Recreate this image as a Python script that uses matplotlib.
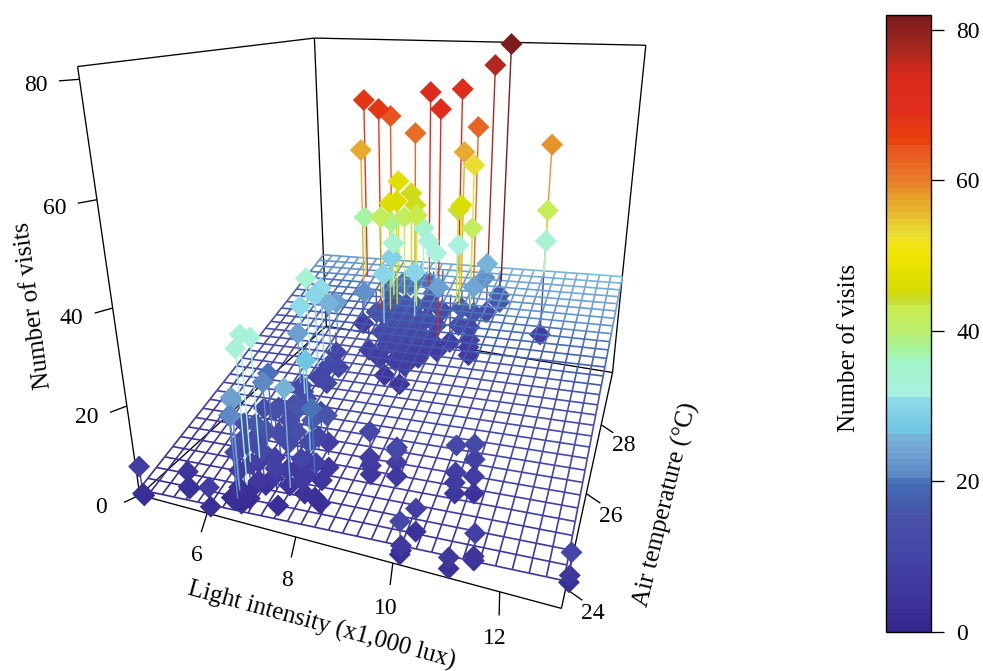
import numpy as np
import matplotlib
matplotlib.use('Agg')
import matplotlib.pyplot as plt
from matplotlib.colors import LinearSegmentedColormap, Normalize
from matplotlib.cm import ScalarMappable
from mpl_toolkits.mplot3d.art3d import Line3DCollection

plt.rcParams['font.family'] = ['Liberation Serif', 'DejaVu Serif']

# ------------------ data ------------------
light = [8.71,8.82,8.89,8.94,9.33,9.42,9.40,9.46,10.50,10.62,10.66,10.68,10.84,10.90,10.96,11.00,10.29,10.28,10.23,10.24,10.20,10.17,11.48,11.49,11.49,11.12,11.13,13.14,13.14,13.13,
 4.57,4.65,4.69,5.30,5.52,5.48,6.28,6.21,6.55,6.62,6.68,6.49,6.36,6.72,6.65,
 7.44,7.23,7.50,7.83,8.19,8.01,8.04,8.03,7.81,7.65,6.49,6.87,7.07,7.34,7.71,7.79,6.74,7.26,7.79,6.91,6.45,7.06,7.02,7.80,7.84,7.92,6.63,6.39,6.57,6.51,6.70,6.55,
 6.34,6.74,6.50,6.58,6.90,7.25,6.56,6.18,6.34,6.48,6.59,6.28,6.52,
 6.46,6.56,6.53,6.35,6.29,7.48,7.52,6.30,6.50,6.43,6.35,9.99,9.55,8.69,8.11,9.00,6.18,7.15,6.82,7.89,9.29,6.40,8.98,9.12,11.03,
 6.96,7.46,7.41,7.51,7.96,6.03,6.99,7.04,7.57,8.05,9.16,9.01,7.70,7.89,7.27,8.40,8.76,7.08,9.49,11.03,
 11.03,7.16,7.73,6.65,7.83,8.47,7.46,8.15,6.10,6.71,7.12,7.47,7.72,7.96,8.00,8.26,7.16,7.47,7.72,7.96,8.15,8.36,7.41,7.72,7.93,8.22,8.33,8.57,7.77,7.60,8.13,8.10,7.36,
 9.05,9.26,8.97,9.22,9.33,9.37,9.44,9.52,9.85,9.86,9.42,9.45,9.39,11.03,
 6.96,7.46,7.35,7.87,6.59,6.91,7.12,7.46,7.64,7.67,6.71,6.57,6.67,7.13,7.41,7.00,7.04,6.55,6.75,6.72,
 7.45,6.95,7.95,6.85,7.45,7.80,8.25,7.00,8.05,8.30,8.80,7.35,8.00,7.20]
temperature = [25.12,24.92,24.84,24.74,25.09,24.91,24.94,24.83,25.33,25.01,24.88,24.84,25.45,25.30,25.11,25.03,23.98,23.99,23.50,23.51,23.59,23.60,23.79,23.73,23.74,23.52,23.50,23.78,23.82,23.87,
 23.56,23.52,23.47,23.96,23.75,23.80,23.50,23.56,23.80,23.98,24.19,23.99,23.92,23.99,23.85,
 23.91,24.19,24.19,24.19,24.16,24.25,24.68,24.46,24.30,24.53,23.97,24.24,24.34,24.43,24.55,25.06,24.10,24.11,24.18,24.05,24.07,24.51,24.87,24.56,24.51,24.86,24.94,24.36,23.85,23.98,24.54,24.22,
 27.56,27.04,26.59,25.88,26.33,24.89,25.14,25.15,24.49,24.59,24.09,26.60,26.79,
 26.64,25.99,27.05,27.62,26.21,24.88,24.18,25.20,24.81,24.05,24.05,29.54,29.72,29.79,29.17,27.77,29.35,28.38,29.55,28.80,29.37,28.80,29.28,29.62,29.95,
 29.69,29.45,28.38,28.55,28.67,29.52,28.69,29.15,28.84,28.56,28.70,28.88,29.69,29.60,28.82,28.97,29.56,29.06,28.61,29.95,
 29.95,29.17,29.15,28.41,29.74,28.96,27.96,28.25,29.22,28.89,28.69,28.58,28.65,28.74,29.27,29.34,28.36,28.30,28.37,28.46,28.65,28.80,28.16,28.10,28.23,28.22,28.56,28.68,27.91,27.70,27.48,27.91,27.89,
 29.16,29.51,29.18,29.32,29.06,28.91,28.73,29.81,29.88,29.88,29.01,29.95,29.95,29.95,
 24.17,24.47,24.33,24.52,24.30,24.33,24.62,24.53,24.94,24.35,24.30,24.05,24.34,24.18,25.37,25.05,25.41,26.90,25.70,25.40,
 29.15,29.10,29.50,29.35,28.85,29.00,29.75,28.00,27.90,28.15,29.00,29.60,29.70,29.45]
visits = [12,8,7,6,10,11,8,6,11,8,7,5,11,9,7,4,9,4,11,6,4,3,9,5,4,6,4,10,5,3,
 8,2,3,5,4,3,8,3,3,3,3,4,2,2,2,
 3,8,5,4,3,3,6,5,7,8,12,11,9,12,12,8,9,9,7,6,7,13,13,17,20,16,14,15,21,23,12,12,
 10,10,10,13,11,16,13,12,33,32,33,34,31,
 30,31,26,23,23,27,26,20,21,23,19,82,77,71,71,70,68,68,64,62,63,57,57,53,58.5,
 47,45,46,46,45,37,41,38,41,43,46,44,35,32,34,32,32,29,41,42,
 34,16,16,22,20,23,30,30,8,14,14,14,14,13,12,10,12,12,12,11,11,9,10,10,9,9,9,7,8,5,5,8,8,
 17,14,12,11,9,8,7,13,18,16,24,26,22,8,
 4,6,7,8,12,15,12,14,10,10,16,14,7,6,12,15,14,11,13,12,
 16,15,15,18,14,14,12,9,7,8,8,19,17,20]

surface_light_step = [0,0.14,0.29,0.43,0.57,0.72,0.86,1.0,1.15,1.29,1.43,1.58,1.72,1.86,2.01,2.15,2.29,2.44,2.58,2.72,2.87,3.01,3.15,3.3,3.44,3.58,3.73,3.87,4.01,4.16,4.3]
surface_temp_step = [1.3,2.0,2.7,3.4,4.1,4.8,5.5,6.2,6.9,7.6,8.3,9.0,9.7,10.4,11.1,11.9,12.6,13.3,14.0,14.7,15.4,16.1,16.8,17.5,18.2,18.9,19.6,20.3,21.0,21.7,22.4]

x_ticks = [6, 8, 10, 12]
y_ticks = [24, 26, 28]
z_ticks = [0, 20, 40, 60, 80]

XLIM = (4.35, 13.07)
YLIM = (23.66, 30.0)
ZLIM = (0.0, 82.0)

# value -> colour of the ramp on the colour key
stops = [(0,'#342890'),(6,'#4038a0'),(10.4,'#4448a8'),(14.9,'#4850a8'),(18.4,'#4464b0'),(20.45,'#4c78bc'),
         (20.6,'#5c88c4'),(23.7,'#70a4d4'),(26.3,'#78b8d8'),(26.5,'#70c4e4'),(31.0,'#90dce8'),(31.2,'#a8f0e4'),
         (35.7,'#a4f4c8'),(37.5,'#a4f49c'),(40,'#bcee6c'),(43,'#c8ec50'),(44,'#c8dc30'),(45.7,'#d8dc00'),
         (50,'#f0e400'),(52,'#f4e41c'),(52.8,'#e8e030'),(57.3,'#e8a82c'),(60,'#e88028'),(64.5,'#ea5420'),
         (65.6,'#e8400c'),(70,'#e02c1c'),(74.5,'#d82a1c'),(77.7,'#a8281e'),(82,'#7d1c1c')]
cmap = LinearSegmentedColormap.from_list('visits', [(v/82, c) for v, c in stops], N=100)
norm = Normalize(0, 82)

W, H = 983, 671
fig = plt.figure(figsize=(W/100, H/100), dpi=100, facecolor='white')

# ------------------ camera fitted to the box corners ------------------
box_corners = [(XLIM[0],YLIM[0],0,139,495),(XLIM[1],YLIM[0],0,562,608),(XLIM[1],YLIM[1],0,612,373),
               (XLIM[0],YLIM[1],0,327,326),(XLIM[0],YLIM[0],82,78,67),(XLIM[0],YLIM[1],82,314,38),
               (XLIM[1],YLIM[1],82,646,45)]
A, b = [], []
for x, y, z, u, v in box_corners:
    A.append([x,y,z,1,0,0,0,0,-u*x,-u*y,-u*z]); b.append(u)
    A.append([0,0,0,0,x,y,z,1,-v*x,-v*y,-v*z]); b.append(v)
p = np.linalg.lstsq(np.array(A, float), np.array(b, float), rcond=None)[0]
P = np.array([p[:4], p[4:8], [p[8], p[9], p[10], 1.0]])
if P[2] @ np.array([np.mean(XLIM), np.mean(YLIM), 40, 1]) < 0:
    P = -P
M = np.array([P[0], H*P[2]-P[1], [0, 0, 0, -1.0], P[2]])

def to_px(x, y, z):
    h = P @ np.array([x, y, z, 1.0])
    return h[0]/h[2], h[1]/h[2]

pad = (W-H)/2
ax = fig.add_axes([0, -pad/H, 1, W/H], projection='3d', computed_zorder=False)
ax.set_axis_off()
ax.patch.set_visible(False)
ax._focal_length = np.inf
def fixed_proj():
    ax.viewLim.intervalx = (0, W)
    ax.viewLim.intervaly = (-pad, H+pad)
    return M
ax.get_proj = fixed_proj

# box
x0, x1 = XLIM; y0, y1 = YLIM; zt = ZLIM[1]
edges = [[(x0,y0,0),(x1,y0,0)],[(x1,y0,0),(x1,y1,0)],[(x1,y1,0),(x0,y1,0)],[(x0,y1,0),(x0,y0,0)],
         [(x0,y0,0),(x0,y0,zt)],[(x0,y1,0),(x0,y1,zt)],[(x1,y1,0),(x1,y1,zt)],
         [(x0,y0,zt),(x0,y1,zt)],[(x0,y1,zt),(x1,y1,zt)]]
ticks = []
label_style = dict(fontsize=17, ha='center', va='center', color='black')
for v in x_ticks:
    end = (v+0.08, y0-0.25, -1.6)
    ticks.append([(v,y0,0), end])
    X, Y = to_px(*end)
    fig.text((X-4.5)/W, 1-(Y+23)/H, str(v), **label_style)
for v in y_ticks:
    end = (x1+0.3, v, -1.5)
    ticks.append([(x1,v,0), end])
    X, Y = to_px(*end)
    fig.text((X+10)/W, 1-(Y+13)/H, str(v), **label_style)
for v in z_ticks:
    end = (x0-0.15, y0-0.22, v)
    ticks.append([(x0,y0,v), end])
    X, Y = to_px(*end)
    fig.text((X-23)/W, 1-(Y+5)/H, str(v), **label_style)
ax.add_collection3d(Line3DCollection(edges+ticks, colors='black', linewidths=0.95, zorder=1))

# surface
xg = np.linspace(x0, x1, len(surface_light_step))
yg = np.linspace(y0, y1, len(surface_temp_step))
zs = np.add.outer(np.array(surface_light_step), np.array(surface_temp_step))
segs, seg_z = [], []
for i in range(len(xg)):
    for j in range(len(yg)):
        if i+1 < len(xg):
            segs.append([(xg[i],yg[j],zs[i,j]),(xg[i+1],yg[j],zs[i+1,j])]); seg_z.append((zs[i,j]+zs[i+1,j])/2)
        if j+1 < len(yg):
            segs.append([(xg[i],yg[j],zs[i,j]),(xg[i],yg[j+1],zs[i,j+1])]); seg_z.append((zs[i,j]+zs[i,j+1])/2)
ax.add_collection3d(Line3DCollection(segs, colors=cmap(norm(seg_z)), linewidths=1.2, zorder=4))

# points, each joined to the fitted surface right under/over it
lx, ty, vs = np.array(light), np.array(temperature), np.array(visits, float)
fit = np.interp(lx, xg, surface_light_step) + np.interp(ty, yg, surface_temp_step)
under = vs < fit
high = vs >= 20

def layer(mask, zo):
    idx = np.where(mask)[0]
    if len(idx) == 0:
        return
    idx = idx[np.argsort(-vs[idx])]
    ax.add_collection3d(Line3DCollection([[(lx[k],ty[k],fit[k]),(lx[k],ty[k],vs[k])] for k in idx],
                                         colors=cmap(norm(vs[idx])), linewidths=1.0, zorder=zo))
    ax.scatter(lx[idx], ty[idx], vs[idx], c=cmap(norm(vs[idx])), s=125, marker='D',
               linewidths=0, depthshade=False, zorder=zo+1)

layer(under, 2)
layer(~under & ~high, 5)
layer(~under & high, 7)

# axis titles
fig.text(322/W, 1-625/H, 'Light intensity (x1,000 lux)', fontsize=18, rotation=-15.3, rotation_mode='anchor', ha='center', va='center')
fig.text(666/W, 1-505/H, 'Air temperature (°C)', fontsize=18, rotation=76.5, rotation_mode='anchor', ha='center', va='center')
fig.text(33/W, 1-305/H, 'Number of visits', fontsize=18, rotation=97.5, rotation_mode='anchor', ha='center', va='center')

# colour key
cax = fig.add_axes([885.5/W, 1-631.7/H, 45.5/W, 616.7/H])
cb = fig.colorbar(ScalarMappable(norm=norm, cmap=cmap), cax=cax, ticks=z_ticks)
cb.outline.set_linewidth(1.0)
cb.outline.set_edgecolor('black')
cax.tick_params(length=9.2, width=0.95, labelsize=17, pad=9)
fig.text(849/W, 1-348/H, 'Number of visits', fontsize=18, rotation=90, ha='center', va='center')

fig.savefig('out.png', dpi=100)
